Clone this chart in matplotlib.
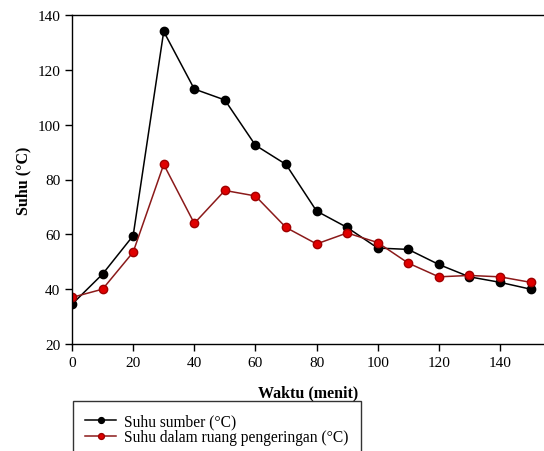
import numpy as np
import matplotlib
matplotlib.use('Agg')
import matplotlib.pyplot as plt

plt.rcParams['font.family'] = ['Liberation Serif', 'DejaVu Serif']

# data
waktu = [0, 10, 20, 30, 40, 50, 60, 70, 80, 90, 100, 110, 120, 130, 140, 150]
suhu_sumber = [34.5, 45.5, 59.5, 134, 113, 109, 92.5, 85.5, 68.5, 62.5, 55, 54.5, 49, 44.5, 42.5, 40]
suhu_ruang = [37, 40, 53.5, 85.5, 64, 76, 74, 62.5, 56.5, 60.5, 57, 49.5, 44.5, 45, 44.5, 42.5]
label_sumber = 'Suhu sumber (°C)'
label_ruang = 'Suhu dalam ruang pengeringan (°C)'

fig = plt.figure(figsize=(5.44, 4.52), dpi=100)
ax = fig.add_axes([72/544, 1-345/452, 1-72/544, (345-16)/452])

ax.plot(waktu, suhu_sumber, color='black', lw=1.1, marker='o', ms=6,
        mfc='black', mec='black', label=label_sumber)
ax.plot(waktu, suhu_ruang, color='#8b1a1a', lw=1.1, marker='o', ms=6,
        mfc='#e00000', mec='#a00000', label=label_ruang)

ax.set_xlim(0, 154.4)
ax.set_ylim(20, 140)
ax.set_xticks(np.arange(0, 141, 20))
ax.set_yticks(np.arange(20, 141, 20))
ax.spines['right'].set_visible(False)
for s in ax.spines.values():
    s.set_linewidth(1.0)
ax.tick_params(direction='out', length=5, width=1, labelsize=11)

ax.set_xlabel('Waktu (menit)', fontsize=11.5, fontweight='bold', labelpad=11)
ax.set_ylabel('Suhu (°C)', fontsize=11.5, fontweight='bold', labelpad=4)

leg = fig.legend(loc='upper left', bbox_to_anchor=(72.5/544, 1-402/452),
                 fontsize=11.2, frameon=True, fancybox=False, edgecolor='black',
                 handlelength=2.0, handletextpad=0.5, borderpad=0.8,
                 labelspacing=0.0, borderaxespad=0, markerscale=0.7)
leg.get_frame().set_linewidth(1.0)

fig.savefig('out.png', dpi=100)
